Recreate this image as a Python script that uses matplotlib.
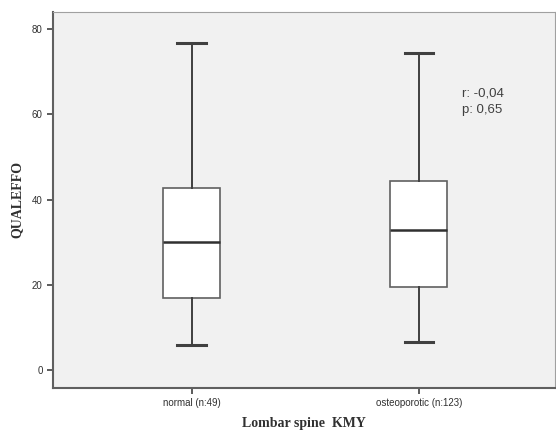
import matplotlib.pyplot as plt

# ---- Data ----
groups = ['normal (n:49)', 'osteoporotic (n:123)']
whislo = [6.0, 6.6]
q1 = [17.0, 19.5]
med = [30.0, 32.9]
q3 = [42.6, 44.4]
whishi = [76.8, 74.3]
yticks = [0, 20, 40, 60, 80]
note = 'r: -0,04\np: 0,65'

stats = []
for i in range(len(groups)):
    stats.append(dict(label=groups[i], whislo=whislo[i], q1=q1[i], med=med[i],
                      q3=q3[i], whishi=whishi[i], fliers=[]))

fig = plt.figure(figsize=(5.56, 4.38), dpi=100)
ax = fig.add_axes([53 / 556, 1 - 388 / 438, 502 / 556, 376 / 438])
ax.set_facecolor('#f1f1f1')

ax.bxp(stats, positions=[1, 2], widths=0.25, showfliers=False, patch_artist=True,
       boxprops=dict(facecolor='white', edgecolor='#606060', linewidth=1.2),
       medianprops=dict(color='#303030', linewidth=1.8),
       whiskerprops=dict(color='#404040', linewidth=1.4),
       capprops=dict(color='#404040', linewidth=2.2),
       capwidths=0.125)

ax.set_xlim(0.39, 2.6)
ax.set_ylim(-4.2, 84)
ax.set_yticks(yticks)
ax.set_xticks([1, 2])
ax.set_xticklabels(groups)

for s in ['top', 'right']:
    ax.spines[s].set_color('#a0a0a0')
for s in ['left', 'bottom']:
    ax.spines[s].set_color('#606060')
    ax.spines[s].set_linewidth(1.5)
ax.tick_params(colors='#404040', labelsize=7, length=4, width=1.2)
for lab in ax.get_xticklabels() + ax.get_yticklabels():
    lab.set_family('Liberation Sans')
    lab.set_color('#303030')

ax.text(2.19, 66.3, note, fontsize=9.5, color='#404040', family='Liberation Sans',
        va='top', linespacing=1.5)

ax.set_ylabel('QUALEFFO', fontsize=10, fontweight='bold', family='Liberation Serif',
              color='#303030', labelpad=6)
ax.set_xlabel('Lombar spine  KMY', fontsize=10, fontweight='bold',
              family='Liberation Serif', color='#303030', labelpad=6)

fig.savefig('out.png', dpi=100)
